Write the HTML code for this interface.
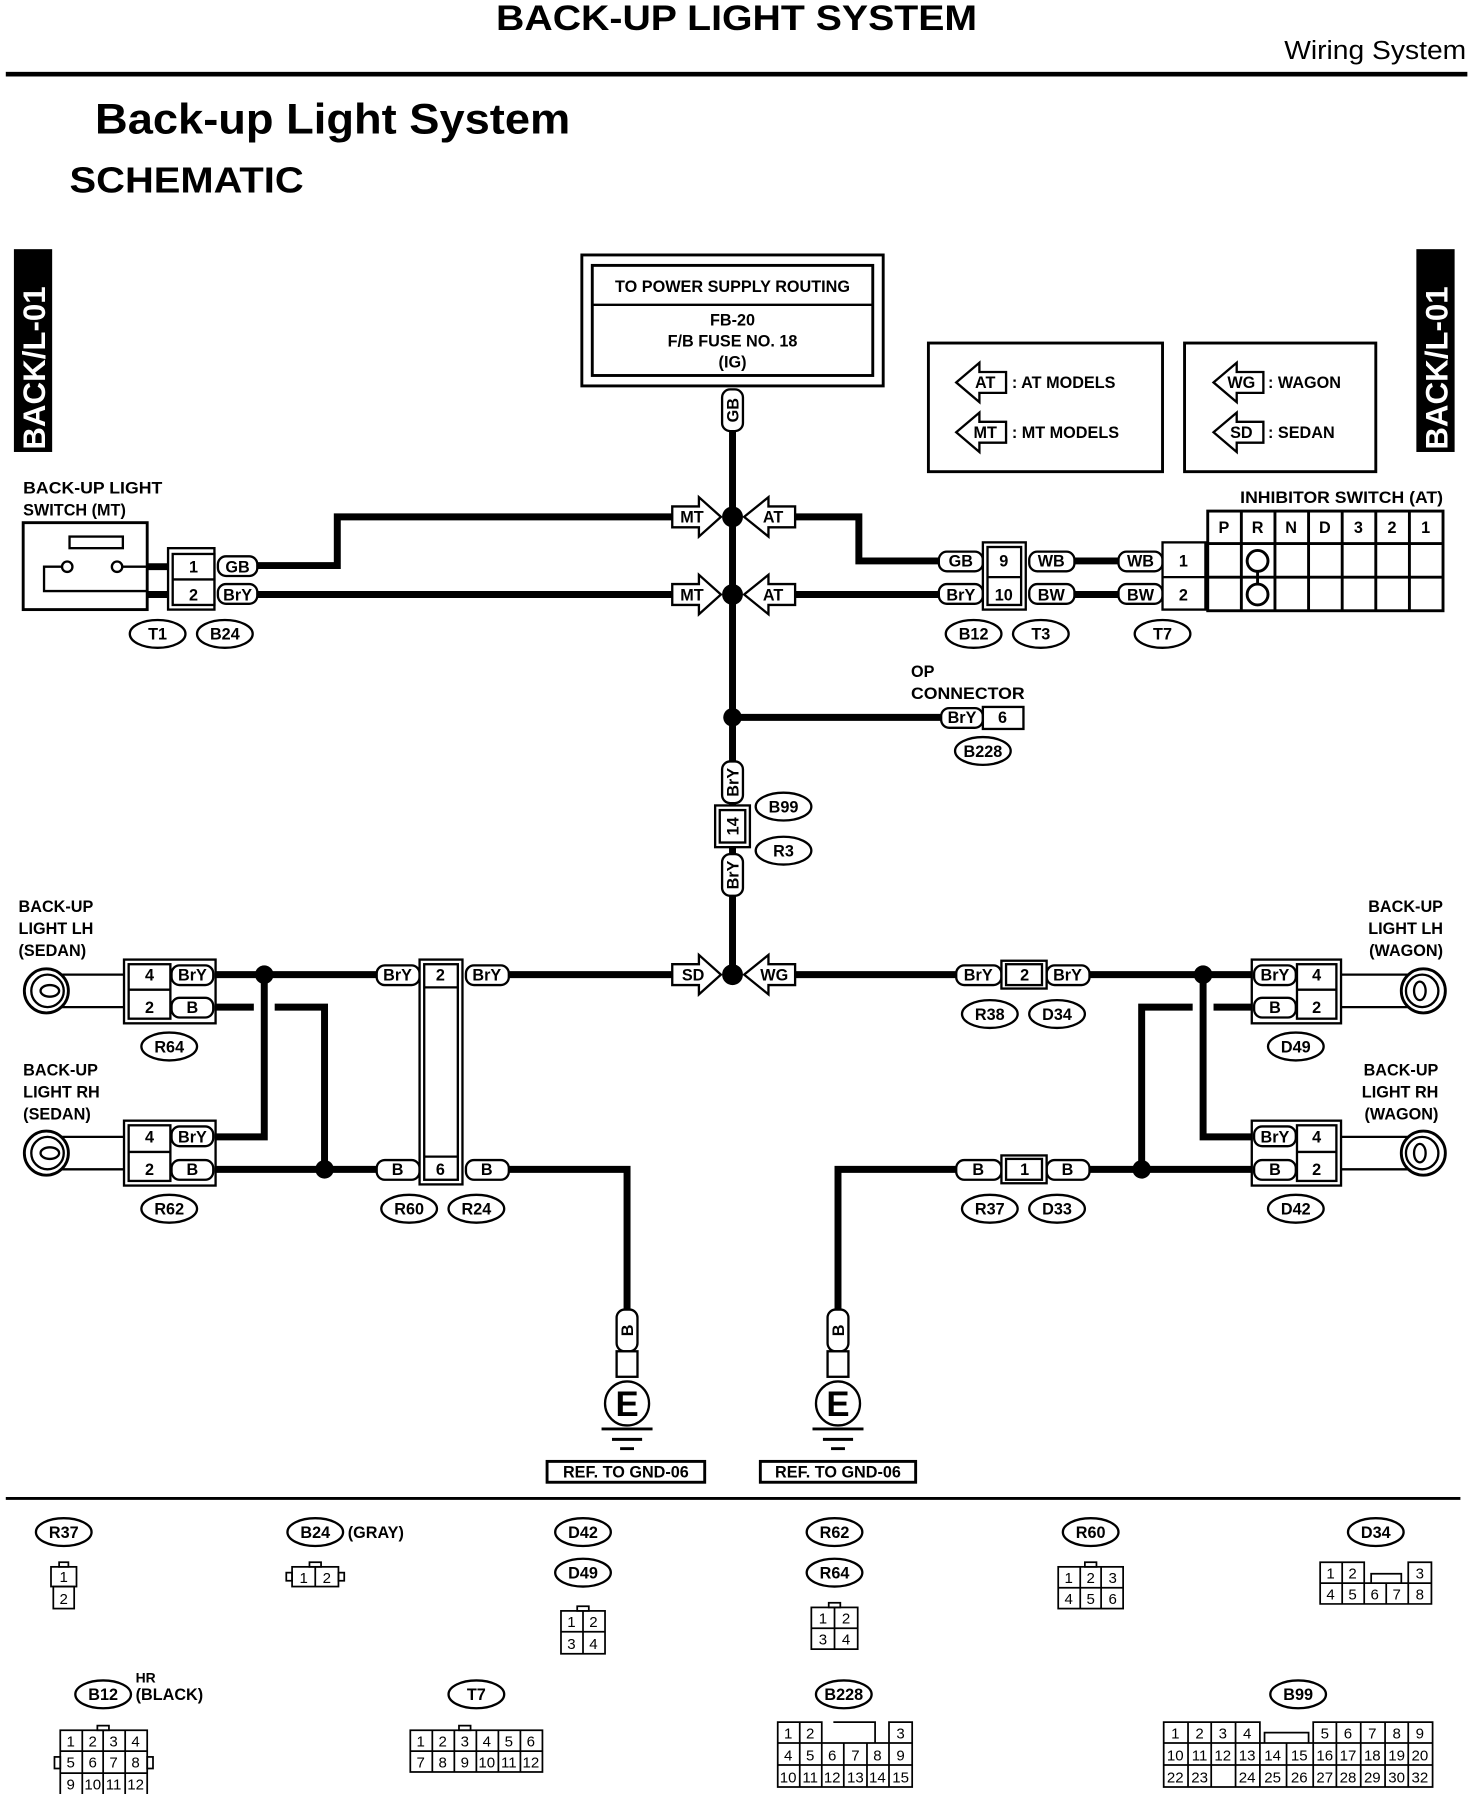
<!DOCTYPE html>
<html><head><meta charset="utf-8"><style>
html,body{margin:0;padding:0;background:#fff;}
svg{display:block}
text{font-family:"Liberation Sans",sans-serif;font-weight:bold;fill:#000}
.c{text-anchor:middle}
.s{font-size:14px}
.n{font-size:13px;font-weight:normal}
</style></head><body>
<svg width="1472" height="1794" viewBox="0 0 1270 1548" preserveAspectRatio="none" xmlns="http://www.w3.org/2000/svg">
<rect width="1270" height="1548" fill="#fff"/>
<!-- header -->
<text x="428" y="26" style="font-size:30px" textLength="415" lengthAdjust="spacingAndGlyphs">BACK-UP LIGHT SYSTEM</text>
<text x="1108" y="51" style="font-size:22px;font-weight:normal" textLength="157" lengthAdjust="spacingAndGlyphs">Wiring System</text>
<rect x="5" y="62" width="1261" height="4"/>
<text x="82" y="115" style="font-size:37px" textLength="410" lengthAdjust="spacingAndGlyphs">Back-up Light System</text>
<text x="60" y="166" style="font-size:31px" textLength="202" lengthAdjust="spacingAndGlyphs">SCHEMATIC</text>
<!-- tabs -->
<rect x="12" y="215" width="33" height="175"/>
<text transform="translate(39,388) rotate(-90)" style="font-size:27px;fill:#fff">BACK/L-01</text>
<rect x="1222" y="215" width="33" height="175"/>
<text transform="translate(1249,388) rotate(-90)" style="font-size:27px;fill:#fff">BACK/L-01</text>
<!-- power box -->
<rect x="502" y="220" width="260" height="113" fill="none" stroke="#000" stroke-width="2.5"/>
<rect x="511" y="229" width="242" height="95" fill="none" stroke="#000" stroke-width="2.5"/>
<line x1="511" y1="263" x2="753" y2="263" stroke="#000" stroke-width="2"/>
<text x="632" y="252" class="c s">TO POWER SUPPLY ROUTING</text>
<text x="632" y="281" class="c s">FB-20</text>
<text x="632" y="299" class="c s">F/B FUSE NO. 18</text>
<text x="632" y="317" class="c s">(IG)</text>

<g stroke="#000" stroke-width="6" fill="none">
<line x1="632" y1="372" x2="632" y2="841"/>
<polyline points="580,446 291,446 291,488 222,488"/>
<polyline points="686,446 741,446 741,484 810,484"/>
<line x1="222" y1="513" x2="580" y2="513"/>
<line x1="686" y1="513" x2="810" y2="513"/>
<line x1="927" y1="484" x2="965" y2="484"/>
<line x1="927" y1="513" x2="965" y2="513"/>
<line x1="127" y1="489" x2="145" y2="489"/>
<line x1="127" y1="513" x2="145" y2="513"/>
<line x1="632" y1="619" x2="812" y2="619"/>
<!-- bottom left -->
<line x1="186" y1="841" x2="325" y2="841"/>
<line x1="438" y1="841" x2="580" y2="841"/>
<polyline points="228,841 228,981 186,981"/>
<polyline points="186,869 219,869"/>
<polyline points="237,869 280,869 280,1009"/>
<line x1="186" y1="1009" x2="325" y2="1009"/>
<polyline points="438,1009 541,1009 541,1130"/>
<!-- bottom right -->
<line x1="686" y1="841" x2="825" y2="841"/>
<line x1="940" y1="841" x2="1080" y2="841"/>
<polyline points="1038,841 1038,981 1080,981"/>
<polyline points="1080,869 1047,869"/>
<polyline points="1029,869 985,869 985,1009"/>
<line x1="940" y1="1009" x2="1080" y2="1009"/>
<polyline points="825,1009 723,1009 723,1130"/>
</g>
<!-- dots -->
<g>
<circle cx="632" cy="446" r="9"/><circle cx="632" cy="513" r="9"/><circle cx="632" cy="619" r="8"/><circle cx="632" cy="841" r="9"/>
<circle cx="228" cy="841" r="8"/><circle cx="280" cy="1009" r="8"/><circle cx="1038" cy="841" r="8"/><circle cx="985" cy="1009" r="8"/>
</g>
<!-- GB vertical label -->
<rect x="623" y="336" width="18" height="36" rx="7" fill="#fff" stroke="#000" stroke-width="2"/>
<text transform="translate(637,354) rotate(-90)" class="c s">GB</text>

<!-- arrows -->
<g fill="#fff" stroke="#000" stroke-width="2">
<polygon points="580,437 603,437 603,429 622,446 603,463 603,455 580,455"/>
<polygon points="686,437 663,437 663,429 642,446 663,463 663,455 686,455"/>
<polygon points="580,504 603,504 603,496 622,513 603,530 603,522 580,522"/>
<polygon points="686,504 663,504 663,496 642,513 663,530 663,522 686,522"/>
<polygon points="580,832 603,832 603,824 622,841 603,858 603,850 580,850"/>
<polygon points="686,832 663,832 663,824 642,841 663,858 663,850 686,850"/>
<polygon points="868,321 845,321 845,313 825,330 845,347 845,339 868,339"/>
<polygon points="868,364 845,364 845,356 825,373 845,390 845,382 868,382"/>
<polygon points="1090,321 1067,321 1067,313 1047,330 1067,347 1067,339 1090,339"/>
<polygon points="1090,364 1067,364 1067,356 1047,373 1067,390 1067,382 1090,382"/>
</g>
<text x="597" y="451" class="c s">MT</text><text x="667" y="451" class="c s">AT</text>
<text x="597" y="518" class="c s">MT</text><text x="667" y="518" class="c s">AT</text>
<text x="598" y="846" class="c s">SD</text><text x="668" y="846" class="c s">WG</text>
<text x="850" y="335" class="c s">AT</text><text x="850" y="378" class="c s">MT</text>
<text x="1071" y="335" class="c s">WG</text><text x="1071" y="378" class="c s">SD</text>
<!-- legend boxes -->
<rect x="801" y="296" width="202" height="111" fill="none" stroke="#000" stroke-width="2.5"/>
<rect x="1022" y="296" width="165" height="111" fill="none" stroke="#000" stroke-width="2.5"/>
<text x="873" y="335" class="s">: AT MODELS</text>
<text x="873" y="378" class="s">: MT MODELS</text>
<text x="1094" y="335" class="s">: WAGON</text>
<text x="1094" y="378" class="s">: SEDAN</text>

<!-- switch -->
<text x="20" y="426" class="s" textLength="120" lengthAdjust="spacingAndGlyphs">BACK-UP LIGHT</text>
<text x="20" y="445" class="s">SWITCH (MT)</text>
<g fill="none" stroke="#000" stroke-width="2">
<rect x="20" y="451" width="107" height="75" stroke-width="2.5"/>
<rect x="60" y="463" width="46" height="10"/>
<polyline points="53,489 38,489 38,510 127,510"/>
<line x1="106" y1="489" x2="127" y2="489"/>
<circle cx="58" cy="489" r="4.5"/><circle cx="101" cy="489" r="4.5"/>
</g>

<g fill="#fff" stroke="#000" stroke-width="2">
<rect x="145" y="473" width="40" height="53"/><rect x="149" y="478" width="36" height="44"/>
<line x1="149" y1="500" x2="185" y2="500"/>
<rect x="188" y="480" width="34" height="17" rx="7"/><rect x="188" y="504" width="34" height="17" rx="7"/>
<rect x="810" y="476" width="38" height="17" rx="7"/><rect x="810" y="504" width="38" height="17" rx="7"/>
<rect x="848" y="468" width="37" height="58"/><rect x="852" y="472" width="29" height="50"/>
<line x1="852" y1="498" x2="881" y2="498"/>
<rect x="888" y="476" width="39" height="17" rx="7"/><rect x="888" y="504" width="39" height="17" rx="7"/>
<rect x="965" y="476" width="38" height="17" rx="7"/><rect x="965" y="504" width="38" height="17" rx="7"/>
<rect x="1003" y="468" width="37" height="58"/>
<line x1="1003" y1="498" x2="1040" y2="498"/>
<rect x="812" y="611" width="36" height="17" rx="7"/>
<rect x="848" y="610" width="35" height="19"/>
<rect x="623" y="657" width="18" height="36" rx="7"/>
<rect x="617" y="695" width="30" height="36"/><rect x="621" y="699" width="22" height="28"/>
<rect x="623" y="737" width="18" height="36" rx="7"/>
<rect x="107" y="828" width="79" height="55"/><rect x="111" y="832" width="36" height="47"/>
<line x1="111" y1="854" x2="147" y2="854"/>
<rect x="148" y="833" width="36" height="17" rx="7"/><rect x="148" y="861" width="36" height="17" rx="7"/>
<rect x="107" y="967" width="79" height="56"/><rect x="111" y="971" width="36" height="48"/>
<line x1="111" y1="994" x2="147" y2="994"/>
<rect x="148" y="972" width="36" height="17" rx="7"/><rect x="148" y="1001" width="36" height="17" rx="7"/>
<rect x="325" y="833" width="37" height="17" rx="7"/><rect x="402" y="833" width="37" height="17" rx="7"/>
<rect x="325" y="1001" width="37" height="17" rx="7"/><rect x="402" y="1001" width="37" height="17" rx="7"/>
<rect x="362" y="828" width="37" height="194"/><rect x="366" y="832" width="29" height="186"/>
<line x1="366" y1="852" x2="395" y2="852"/><line x1="366" y1="998" x2="395" y2="998"/>
<rect x="825" y="833" width="39" height="17" rx="7"/><rect x="903" y="833" width="37" height="17" rx="7"/>
<rect x="864" y="829" width="39" height="24"/><rect x="868" y="832" width="31" height="18"/>
<rect x="825" y="1001" width="39" height="17" rx="7"/><rect x="903" y="1001" width="37" height="17" rx="7"/>
<rect x="864" y="997" width="39" height="24"/><rect x="868" y="1000" width="31" height="18"/>
<rect x="1080" y="828" width="77" height="55"/><rect x="1119" y="832" width="34" height="47"/>
<line x1="1119" y1="854" x2="1153" y2="854"/>
<rect x="1082" y="833" width="36" height="17" rx="7"/><rect x="1082" y="861" width="36" height="17" rx="7"/>
<rect x="1080" y="967" width="77" height="56"/><rect x="1119" y="971" width="34" height="48"/>
<line x1="1119" y1="994" x2="1153" y2="994"/>
<rect x="1082" y="972" width="36" height="17" rx="7"/><rect x="1082" y="1001" width="36" height="17" rx="7"/>
<rect x="532" y="1130" width="18" height="36" rx="7"/><rect x="532" y="1166" width="18" height="22"/>
<rect x="714" y="1130" width="18" height="36" rx="7"/><rect x="714" y="1166" width="18" height="22"/>
<circle cx="541" cy="1211" r="19"/><circle cx="723" cy="1211" r="19"/>
</g>
<text x="167" y="494" class="c s">1</text><text x="205" y="494" class="c s">GB</text>
<text x="167" y="518" class="c s">2</text><text x="205" y="518" class="c s">BrY</text>
<text x="829" y="489" class="c s">GB</text><text x="866" y="489" class="c s">9</text><text x="907" y="489" class="c s">WB</text>
<text x="829" y="518" class="c s">BrY</text><text x="866" y="518" class="c s">10</text><text x="907" y="518" class="c s">BW</text>
<text x="984" y="489" class="c s">WB</text><text x="1021" y="489" class="c s">1</text>
<text x="984" y="518" class="c s">BW</text><text x="1021" y="518" class="c s">2</text>
<text x="786" y="584" class="s">OP</text><text x="786" y="603" class="s" textLength="98" lengthAdjust="spacingAndGlyphs">CONNECTOR</text>
<text x="830" y="624" class="c s">BrY</text><text x="865" y="624" class="c s">6</text>
<text transform="translate(637,675) rotate(-90)" class="c s">BrY</text>
<text transform="translate(637,713) rotate(-90)" class="c s">14</text>
<text transform="translate(637,755) rotate(-90)" class="c s">BrY</text>
<text x="129" y="846" class="c s">4</text><text x="166" y="846" class="c s">BrY</text>
<text x="129" y="874" class="c s">2</text><text x="166" y="874" class="c s">B</text>
<text x="129" y="986" class="c s">4</text><text x="166" y="986" class="c s">BrY</text>
<text x="129" y="1014" class="c s">2</text><text x="166" y="1014" class="c s">B</text>
<text x="343" y="846" class="c s">BrY</text><text x="380" y="846" class="c s">2</text><text x="420" y="846" class="c s">BrY</text>
<text x="343" y="1014" class="c s">B</text><text x="380" y="1014" class="c s">6</text><text x="420" y="1014" class="c s">B</text>
<text x="844" y="846" class="c s">BrY</text><text x="884" y="846" class="c s">2</text><text x="921" y="846" class="c s">BrY</text>
<text x="844" y="1014" class="c s">B</text><text x="884" y="1014" class="c s">1</text><text x="921" y="1014" class="c s">B</text>
<text x="1100" y="846" class="c s">BrY</text><text x="1136" y="846" class="c s">4</text>
<text x="1100" y="874" class="c s">B</text><text x="1136" y="874" class="c s">2</text>
<text x="1100" y="986" class="c s">BrY</text><text x="1136" y="986" class="c s">4</text>
<text x="1100" y="1014" class="c s">B</text><text x="1136" y="1014" class="c s">2</text>
<text transform="translate(546,1148) rotate(-90)" class="c s">B</text>
<text transform="translate(728,1148) rotate(-90)" class="c s">B</text>
<text x="541" y="1222" class="c" style="font-size:30px">E</text>
<text x="723" y="1222" class="c" style="font-size:30px">E</text>
<g stroke="#000" stroke-width="2.5">
<line x1="519" y1="1233" x2="563" y2="1233"/><line x1="528" y1="1242" x2="554" y2="1242"/><line x1="535" y1="1250" x2="547" y2="1250"/>
<line x1="701" y1="1233" x2="745" y2="1233"/><line x1="710" y1="1242" x2="736" y2="1242"/><line x1="717" y1="1250" x2="729" y2="1250"/>
</g>
<rect x="472" y="1261" width="136" height="18" fill="none" stroke="#000" stroke-width="2.5"/>
<rect x="656" y="1261" width="134" height="18" fill="none" stroke="#000" stroke-width="2.5"/>
<text x="540" y="1275" class="c s">REF. TO GND-06</text>
<text x="723" y="1275" class="c s">REF. TO GND-06</text>

<!-- inhibitor switch -->
<text x="1070" y="434" class="s" textLength="175" lengthAdjust="spacingAndGlyphs">INHIBITOR SWITCH (AT)</text>
<g fill="none" stroke="#000" stroke-width="2.5">
<rect x="1042" y="441" width="203" height="86"/>
<line x1="1042" y1="469" x2="1245" y2="469"/><line x1="1042" y1="498" x2="1245" y2="498"/>
<line x1="1071" y1="441" x2="1071" y2="527"/><line x1="1100" y1="441" x2="1100" y2="527"/>
<line x1="1129" y1="441" x2="1129" y2="527"/><line x1="1158" y1="441" x2="1158" y2="527"/>
<line x1="1187" y1="441" x2="1187" y2="527"/><line x1="1216" y1="441" x2="1216" y2="527"/>
<circle cx="1085" cy="484" r="9"/><circle cx="1085" cy="513" r="9"/>
<line x1="1085" y1="493" x2="1085" y2="504"/>
</g>
<text x="1056" y="460" class="c s">P</text><text x="1085" y="460" class="c s">R</text><text x="1114" y="460" class="c s">N</text>
<text x="1143" y="460" class="c s">D</text><text x="1172" y="460" class="c s">3</text><text x="1201" y="460" class="c s">2</text><text x="1230" y="460" class="c s">1</text>

<!-- lamps -->
<g fill="none" stroke="#000" stroke-width="2">
<line x1="40" y1="841" x2="107" y2="841"/><line x1="40" y1="869" x2="107" y2="869"/>
<line x1="40" y1="981" x2="107" y2="981"/><line x1="40" y1="1009" x2="107" y2="1009"/>
<line x1="1157" y1="841" x2="1226" y2="841"/><line x1="1157" y1="869" x2="1226" y2="869"/>
<line x1="1157" y1="981" x2="1226" y2="981"/><line x1="1157" y1="1009" x2="1226" y2="1009"/>
</g>
<g fill="#fff" stroke="#000" stroke-width="2.5">
<circle cx="40" cy="855" r="19"/><circle cx="40" cy="995" r="19"/>
<circle cx="1228" cy="855" r="19"/><circle cx="1228" cy="995" r="19"/>
</g>
<g fill="none" stroke="#000" stroke-width="2">
<circle cx="41" cy="855" r="14"/><ellipse cx="43" cy="855" rx="8" ry="5"/>
<circle cx="41" cy="995" r="14"/><ellipse cx="43" cy="995" rx="8" ry="5"/>
<circle cx="1227" cy="855" r="14"/><ellipse cx="1225" cy="855" rx="5" ry="8"/>
<circle cx="1227" cy="995" r="14"/><ellipse cx="1225" cy="995" rx="5" ry="8"/>
</g>
<text x="16" y="787" class="s">BACK-UP</text><text x="16" y="806" class="s">LIGHT LH</text><text x="16" y="825" class="s">(SEDAN)</text>
<text x="20" y="928" class="s">BACK-UP</text><text x="20" y="947" class="s">LIGHT RH</text><text x="20" y="966" class="s">(SEDAN)</text>
<g style="text-anchor:end">
<text x="1245" y="787" class="s">BACK-UP</text><text x="1245" y="806" class="s">LIGHT LH</text><text x="1245" y="825" class="s">(WAGON)</text>
<text x="1241" y="928" class="s">BACK-UP</text><text x="1241" y="947" class="s">LIGHT RH</text><text x="1241" y="966" class="s">(WAGON)</text>
</g>

<!-- ovals -->
<g fill="#fff" stroke="#000" stroke-width="2">
<ellipse cx="136" cy="547" rx="24" ry="12"/><ellipse cx="194" cy="547" rx="24" ry="12"/>
<ellipse cx="840" cy="547" rx="24" ry="12"/><ellipse cx="898" cy="547" rx="24" ry="12"/>
<ellipse cx="1003" cy="547" rx="24" ry="12"/>
<ellipse cx="848" cy="648" rx="24" ry="12"/>
<ellipse cx="676" cy="696" rx="24" ry="12"/><ellipse cx="676" cy="734" rx="24" ry="12"/>
<ellipse cx="146" cy="903" rx="24" ry="12"/><ellipse cx="146" cy="1043" rx="24" ry="12"/>
<ellipse cx="353" cy="1043" rx="24" ry="12"/><ellipse cx="411" cy="1043" rx="24" ry="12"/>
<ellipse cx="854" cy="875" rx="24" ry="12"/><ellipse cx="912" cy="875" rx="24" ry="12"/>
<ellipse cx="854" cy="1043" rx="24" ry="12"/><ellipse cx="912" cy="1043" rx="24" ry="12"/>
<ellipse cx="1118" cy="903" rx="24" ry="12"/><ellipse cx="1118" cy="1043" rx="24" ry="12"/>
<ellipse cx="55" cy="1322" rx="24" ry="12"/><ellipse cx="272" cy="1322" rx="24" ry="12"/>
<ellipse cx="503" cy="1322" rx="24" ry="12"/><ellipse cx="503" cy="1357" rx="24" ry="12"/>
<ellipse cx="720" cy="1322" rx="24" ry="12"/><ellipse cx="720" cy="1357" rx="24" ry="12"/>
<ellipse cx="941" cy="1322" rx="24" ry="12"/><ellipse cx="1187" cy="1322" rx="24" ry="12"/>
<ellipse cx="89" cy="1462" rx="24" ry="12"/><ellipse cx="411" cy="1462" rx="24" ry="12"/>
<ellipse cx="728" cy="1462" rx="24" ry="12"/><ellipse cx="1120" cy="1462" rx="24" ry="12"/>
</g>
<g>
<text x="136" y="552" class="c s">T1</text><text x="194" y="552" class="c s">B24</text>
<text x="840" y="552" class="c s">B12</text><text x="898" y="552" class="c s">T3</text>
<text x="1003" y="552" class="c s">T7</text><text x="848" y="653" class="c s">B228</text>
<text x="676" y="701" class="c s">B99</text><text x="676" y="739" class="c s">R3</text>
<text x="146" y="908" class="c s">R64</text><text x="146" y="1048" class="c s">R62</text>
<text x="353" y="1048" class="c s">R60</text><text x="411" y="1048" class="c s">R24</text>
<text x="854" y="880" class="c s">R38</text><text x="912" y="880" class="c s">D34</text>
<text x="854" y="1048" class="c s">R37</text><text x="912" y="1048" class="c s">D33</text>
<text x="1118" y="908" class="c s">D49</text><text x="1118" y="1048" class="c s">D42</text>
<text x="55" y="1327" class="c s">R37</text><text x="272" y="1327" class="c s">B24</text>
<text x="503" y="1327" class="c s">D42</text><text x="503" y="1362" class="c s">D49</text>
<text x="720" y="1327" class="c s">R62</text><text x="720" y="1362" class="c s">R64</text>
<text x="941" y="1327" class="c s">R60</text><text x="1187" y="1327" class="c s">D34</text>
<text x="89" y="1467" class="c s">B12</text><text x="411" y="1467" class="c s">T7</text>
<text x="728" y="1467" class="c s">B228</text><text x="1120" y="1467" class="c s">B99</text>
</g>
<text x="300" y="1327" class="s">(GRAY)</text>
<text x="117" y="1452" class="s" style="font-size:12px">HR</text>
<text x="117" y="1467" class="s">(BLACK)</text>

<line x1="5" y1="1293" x2="1260" y2="1293" stroke="#000" stroke-width="2.5"/>

<g fill="none" stroke="#000" stroke-width="1.5">
<rect x="44" y="1352" width="22" height="17"/><rect x="46" y="1369" width="18" height="19"/><rect x="51" y="1348" width="8" height="4"/>
<rect x="252" y="1352" width="40" height="17"/><line x1="272" y1="1352" x2="272" y2="1369"/>
<rect x="247" y="1357" width="5" height="7"/><rect x="292" y="1357" width="5" height="7"/><rect x="267" y="1348" width="10" height="4"/>
<rect x="484" y="1390" width="38" height="37"/><line x1="484" y1="1408" x2="522" y2="1408"/><line x1="503" y1="1390" x2="503" y2="1427"/><rect x="498" y="1386" width="10" height="4"/>
<rect x="700" y="1387" width="40" height="36"/><line x1="700" y1="1405" x2="740" y2="1405"/><line x1="720" y1="1387" x2="720" y2="1423"/><rect x="715" y="1383" width="10" height="4"/>
<rect x="913" y="1352" width="56" height="36"/><line x1="913" y1="1370" x2="969" y2="1370"/><line x1="932" y1="1352" x2="932" y2="1388"/><line x1="950" y1="1352" x2="950" y2="1388"/><rect x="936" y="1348" width="10" height="4"/>
<path d="M1139 1348 H1177 V1366 H1139 Z M1158 1348 V1366 M1215 1348 H1235 V1366 H1215 Z M1139 1366 H1235 V1384 H1139 Z M1158 1366 V1384 M1177 1366 V1384 M1196 1366 V1384 M1215 1366 V1384 M1183 1366 V1358 H1209 V1366"/>
<rect x="52" y="1493" width="75" height="56"/><line x1="52" y1="1511" x2="127" y2="1511"/><line x1="52" y1="1530" x2="127" y2="1530"/>
<line x1="71" y1="1493" x2="71" y2="1549"/><line x1="89" y1="1493" x2="89" y2="1549"/><line x1="108" y1="1493" x2="108" y2="1549"/>
<rect x="84" y="1489" width="10" height="4"/><rect x="47" y="1516" width="5" height="10"/><rect x="127" y="1516" width="5" height="10"/>
<rect x="354" y="1493" width="114" height="36"/><line x1="354" y1="1511" x2="468" y2="1511"/>
<line x1="373" y1="1493" x2="373" y2="1529"/><line x1="392" y1="1493" x2="392" y2="1529"/><line x1="411" y1="1493" x2="411" y2="1529"/><line x1="430" y1="1493" x2="430" y2="1529"/><line x1="449" y1="1493" x2="449" y2="1529"/>
<rect x="396" y="1489" width="10" height="4"/>
<path d="M671 1486 H709 V1504 H671 Z M690 1486 V1504 M767 1486 H787 V1504 H767 Z M719 1486 H755 V1504 M671 1504 H787 V1542 H671 Z M671 1523 H787 M690 1504 V1542 M709 1504 V1542 M728 1504 V1542 M748 1504 V1542 M767 1504 V1542"/>
<path d="M1004 1486 H1087 V1504 H1004 Z M1025 1486 V1504 M1045 1486 V1504 M1066 1486 V1504 M1133 1486 H1236 V1504 H1133 Z M1153 1486 V1504 M1174 1486 V1504 M1195 1486 V1504 M1215 1486 V1504 M1091 1504 V1495 H1129 V1504 M1004 1504 H1236 V1542 H1004 Z M1004 1523 H1236 M1025 1504 V1542 M1045 1504 V1542 M1066 1504 V1542 M1087 1504 V1542 M1110 1504 V1542 M1133 1504 V1542 M1153 1504 V1542 M1174 1504 V1542 M1195 1504 V1542 M1215 1504 V1542"/>
</g>
<g>
<text x="55" y="1365" class="c n">1</text><text x="55" y="1384" class="c n">2</text>
<text x="262" y="1366" class="c n">1</text><text x="282" y="1366" class="c n">2</text>
<text x="493" y="1404" class="c n">1</text><text x="512" y="1404" class="c n">2</text><text x="493" y="1423" class="c n">3</text><text x="512" y="1423" class="c n">4</text>
<text x="710" y="1401" class="c n">1</text><text x="730" y="1401" class="c n">2</text><text x="710" y="1419" class="c n">3</text><text x="730" y="1419" class="c n">4</text>
<text x="922" y="1366" class="c n">1</text><text x="941" y="1366" class="c n">2</text><text x="960" y="1366" class="c n">3</text>
<text x="922" y="1384" class="c n">4</text><text x="941" y="1384" class="c n">5</text><text x="960" y="1384" class="c n">6</text>
<text x="1148" y="1362" class="c n">1</text><text x="1167" y="1362" class="c n">2</text><text x="1225" y="1362" class="c n">3</text>
<text x="1148" y="1380" class="c n">4</text><text x="1167" y="1380" class="c n">5</text><text x="1186" y="1380" class="c n">6</text><text x="1205" y="1380" class="c n">7</text><text x="1225" y="1380" class="c n">8</text>
<text x="61" y="1507" class="c n">1</text><text x="80" y="1507" class="c n">2</text><text x="98" y="1507" class="c n">3</text><text x="117" y="1507" class="c n">4</text>
<text x="61" y="1525" class="c n">5</text><text x="80" y="1525" class="c n">6</text><text x="98" y="1525" class="c n">7</text><text x="117" y="1525" class="c n">8</text>
<text x="61" y="1544" class="c n">9</text><text x="80" y="1544" class="c n">10</text><text x="98" y="1544" class="c n">11</text><text x="117" y="1544" class="c n">12</text>
<text x="363" y="1507" class="c n">1</text><text x="382" y="1507" class="c n">2</text><text x="401" y="1507" class="c n">3</text><text x="420" y="1507" class="c n">4</text><text x="439" y="1507" class="c n">5</text><text x="458" y="1507" class="c n">6</text>
<text x="363" y="1525" class="c n">7</text><text x="382" y="1525" class="c n">8</text><text x="401" y="1525" class="c n">9</text><text x="420" y="1525" class="c n">10</text><text x="439" y="1525" class="c n">11</text><text x="458" y="1525" class="c n">12</text>
<text x="680" y="1500" class="c n">1</text><text x="699" y="1500" class="c n">2</text><text x="777" y="1500" class="c n">3</text>
<text x="680" y="1519" class="c n">4</text><text x="699" y="1519" class="c n">5</text><text x="718" y="1519" class="c n">6</text><text x="738" y="1519" class="c n">7</text><text x="757" y="1519" class="c n">8</text><text x="777" y="1519" class="c n">9</text>
<text x="680" y="1538" class="c n">10</text><text x="699" y="1538" class="c n">11</text><text x="718" y="1538" class="c n">12</text><text x="738" y="1538" class="c n">13</text><text x="757" y="1538" class="c n">14</text><text x="777" y="1538" class="c n">15</text>
<text x="1014" y="1500" class="c n">1</text><text x="1035" y="1500" class="c n">2</text><text x="1055" y="1500" class="c n">3</text><text x="1076" y="1500" class="c n">4</text>
<text x="1143" y="1500" class="c n">5</text><text x="1163" y="1500" class="c n">6</text><text x="1184" y="1500" class="c n">7</text><text x="1205" y="1500" class="c n">8</text><text x="1225" y="1500" class="c n">9</text>
<text x="1014" y="1519" class="c n">10</text><text x="1035" y="1519" class="c n">11</text><text x="1055" y="1519" class="c n">12</text><text x="1076" y="1519" class="c n">13</text><text x="1098" y="1519" class="c n">14</text><text x="1121" y="1519" class="c n">15</text><text x="1143" y="1519" class="c n">16</text><text x="1163" y="1519" class="c n">17</text><text x="1184" y="1519" class="c n">18</text><text x="1205" y="1519" class="c n">19</text><text x="1225" y="1519" class="c n">20</text>
<text x="1014" y="1538" class="c n">22</text><text x="1035" y="1538" class="c n">23</text><text x="1076" y="1538" class="c n">24</text><text x="1098" y="1538" class="c n">25</text><text x="1121" y="1538" class="c n">26</text><text x="1143" y="1538" class="c n">27</text><text x="1163" y="1538" class="c n">28</text><text x="1184" y="1538" class="c n">29</text><text x="1205" y="1538" class="c n">30</text><text x="1225" y="1538" class="c n">32</text>
</g>
</svg>
</body></html>
